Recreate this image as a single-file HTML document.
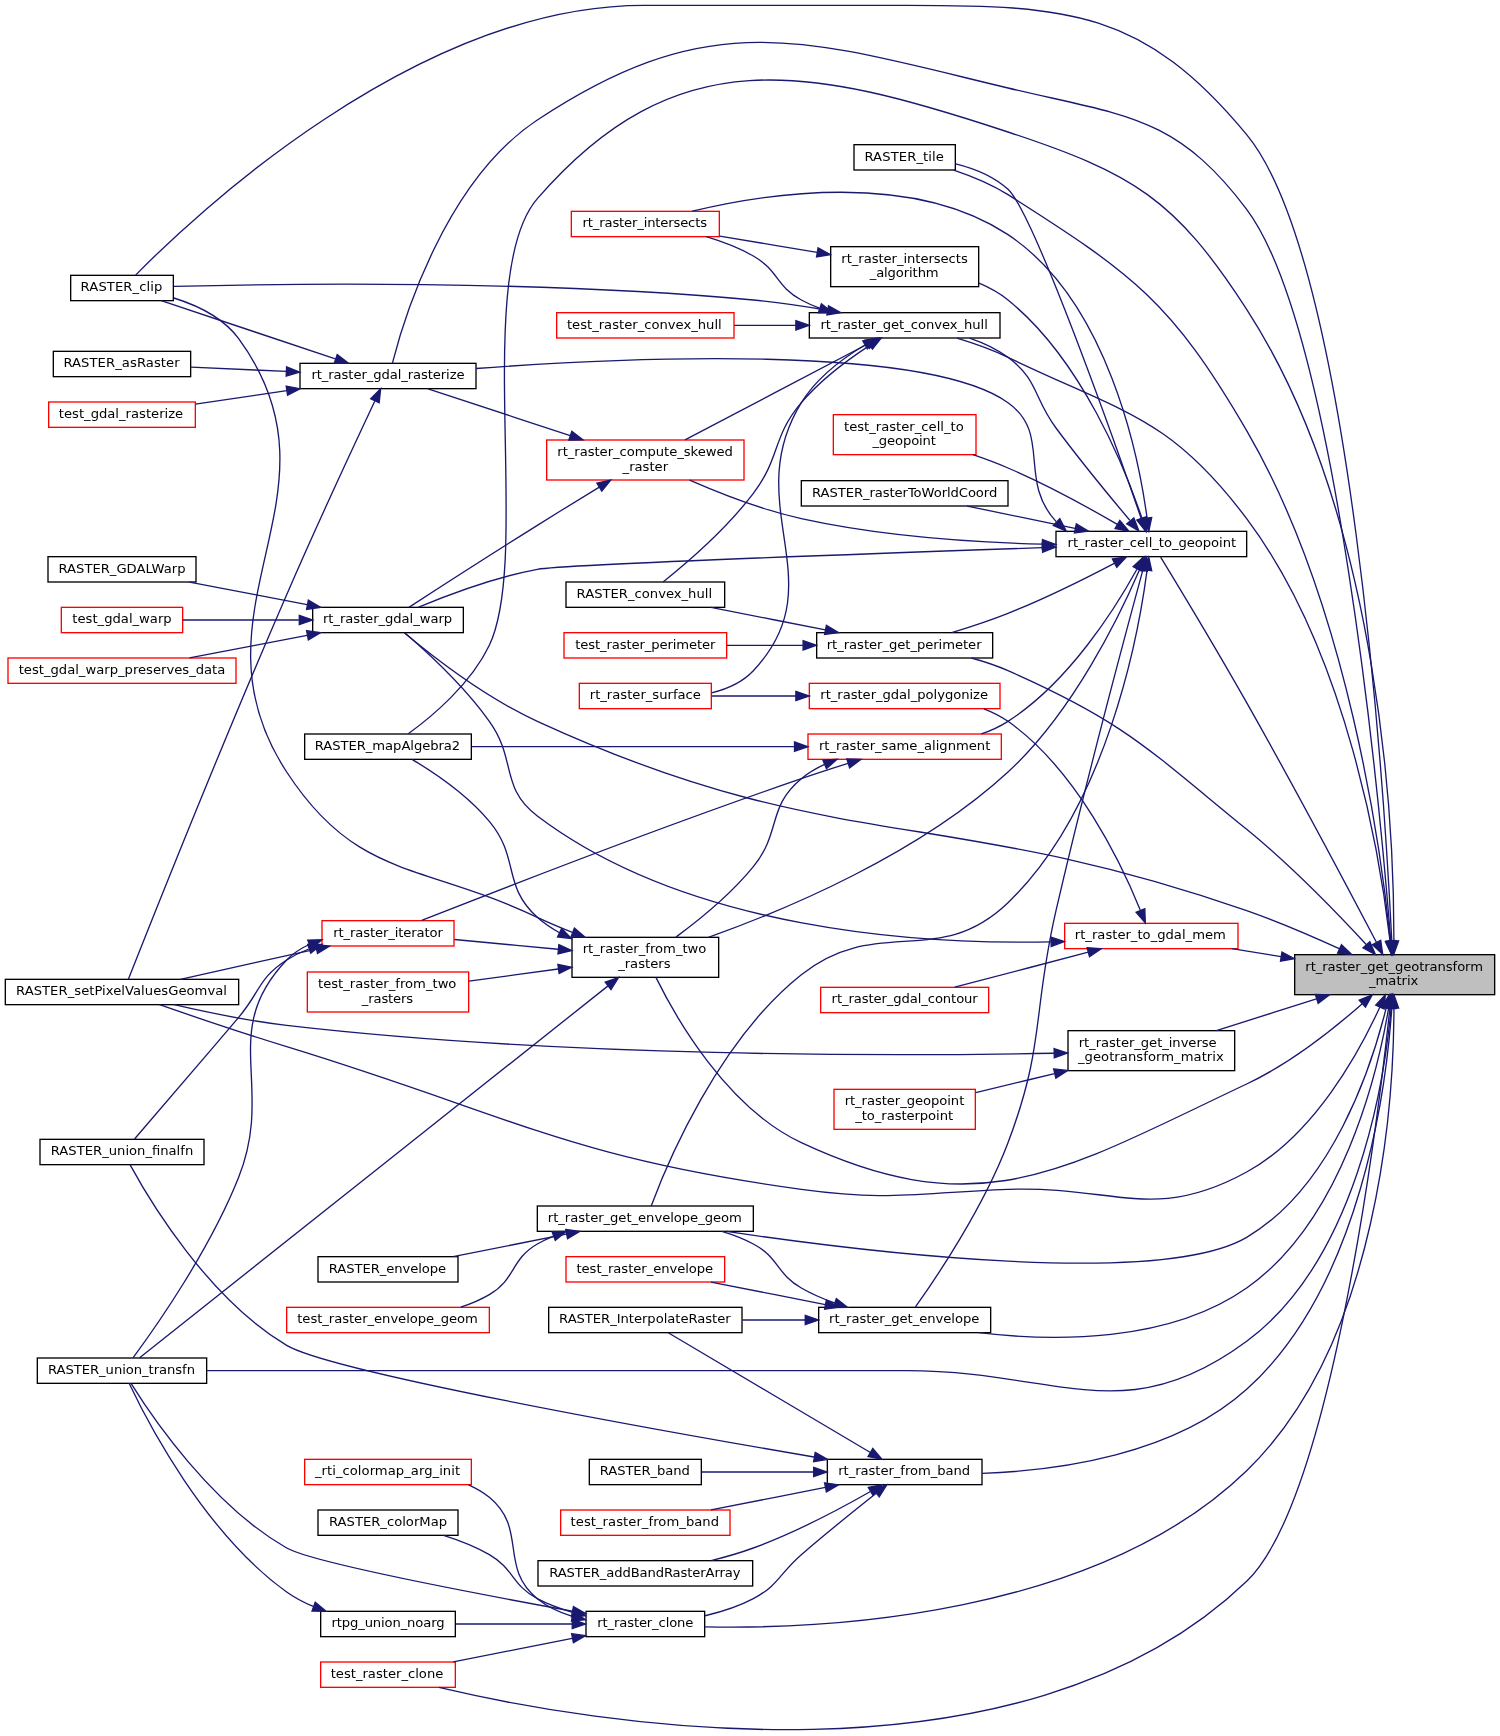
<!DOCTYPE html>
<html lang="en">
<head>
<meta charset="utf-8">
<title>rt_raster_get_geotransform_matrix caller graph</title>
<style>
html,body{margin:0;padding:0;background:#fff;}
body{width:1500px;height:1736px;overflow:hidden;}
svg{display:block;}
text{font-family:"DejaVu Sans","Liberation Sans",sans-serif;font-size:13.15px;fill:#000;text-anchor:middle;letter-spacing:0.0px;}
text.l{text-anchor:start;}
rect.n{fill:#fff;stroke:#000;stroke-width:1.3333;}
rect.r{stroke:#f00;}
rect.root{fill:#bfbfbf;}
.graph path{fill:none;stroke:#191970;stroke-width:1.3333;}
.graph polygon{fill:#191970;stroke:#191970;stroke-width:1.3333;}
</style>
</head>
<body>
<svg width="1500" height="1736" viewBox="0 0 1500 1736">
<defs><filter id="gray" x="0" y="0" width="1500" height="1736" filterUnits="userSpaceOnUse" color-interpolation-filters="sRGB"><feColorMatrix type="saturate" values="0"/></filter></defs>
<rect x="0" y="0" width="1500" height="1736" fill="#fff"/>
<g class="graph">
<rect class="n root" x="1294.67" y="954.67" width="200" height="40"/>
<rect class="n" x="70.67" y="275.33" width="102.67" height="25.33"/>
<path d="M1391.81,941.12C1384.8,800.68 1351.39,261.44 1246.67,134.67 1143.53,9.8 1067.95,5.33 906,5.33 906,5.33 906,5.33 644,5.33 414.63,5.33 189.79,219.83 135.63,275.12"/>
<polygon points="1396.48,940.95 1392.45,954.49 1387.15,941.4 1396.48,940.95"/>
<rect class="n" x="304.67" y="734" width="166.67" height="25.33"/>
<path d="M1393.89,940.52C1394.04,836.76 1382.64,519.45 1246.67,309.33 1174.87,198.39 1133.47,173.51 1008,132 807.41,65.64 675.89,39.17 537.33,198.67 471.87,274.03 532.12,555.13 489.33,645.33 471.01,683.97 431.79,716.67 408.28,733.8"/>
<polygon points="1398.56,940.95 1393.81,954.24 1389.23,940.88 1398.56,940.95"/>
<rect class="n" x="5.33" y="979.33" width="233.33" height="25.33"/>
<path d="M1379.79,1007.28C1358.81,1053.13 1313.76,1135.17 1246.67,1172 1153.44,1223.19 1114.28,1185.48 1008,1189.33 916.21,1192.67 892.35,1201.72 801.33,1189.33 566.13,1157.33 513.67,1116.07 286.67,1046.67 242.63,1033.2 192.47,1016.16 159.48,1004.71"/>
<polygon points="1375.64,1005.13 1385.29,994.83 1384.17,1008.91 1375.64,1005.13"/>
<rect class="n" x="854" y="144.67" width="101.33" height="25.33"/>
<path d="M1390.4,941.11C1381.4,852.15 1348.29,605.24 1246.67,430.67 1171.61,301.75 1133.96,274.57 1008,194.67 991.44,184.16 971.51,176.03 953.67,170.08"/>
<polygon points="1395.05,940.73 1391.69,954.45 1385.76,941.63 1395.05,940.73"/>
<rect class="n" x="37.33" y="1358" width="169.33" height="25.33"/>
<path d="M1391.13,1008.25C1384.28,1082.36 1356.64,1259.79 1246.67,1341.33 1124.6,1431.85 1057.97,1370.67 906,1370.67 906,1370.67 906,1370.67 644,1370.67 489.65,1370.67 309.57,1370.67 206.75,1370.67"/>
<polygon points="1386.48,1007.76 1392.24,994.87 1395.79,1008.53 1386.48,1007.76"/>
<rect class="n" x="1056" y="531.33" width="190.67" height="25.33"/>
<path d="M1376.55,942.55C1349.72,891.43 1295.24,788.56 1246.67,702.67 1215.77,648.04 1177.08,584.05 1160.64,557.07"/>
<polygon points="1380.69,940.4 1382.76,954.39 1372.43,944.73 1380.69,940.4"/>
<rect class="n" x="300" y="363.33" width="176" height="25.33"/>
<path d="M1390.79,941.01C1380.24,809.07 1336.23,328.4 1246.67,209.33 1175.13,114.24 1123.72,115.72 1008,88 804.11,39.15 712.29,4.47 537.33,120 445.23,180.83 403.44,320.05 392.41,363.08"/>
<polygon points="1395.44,940.69 1391.84,954.35 1386.15,941.41 1395.44,940.69"/>
<rect class="n" x="312.67" y="607.33" width="150.67" height="25.33"/>
<path d="M1339.19,948.71C1311.84,936.2 1277.91,921.59 1246.67,910.67 938.63,803.04 833.84,857.53 537.33,721.33 484.41,697.03 429.84,654.16 404.27,632.81"/>
<polygon points="1341.51,944.64 1351.64,954.47 1337.59,953.11 1341.51,944.64"/>
<rect class="n" x="572" y="937.33" width="146.67" height="40"/>
<path d="M1362.28,1003.69C1334.15,1028.48 1290.48,1063.33 1246.67,1084 1066.12,1169.17 982.15,1227.28 801.33,1142.67 726.93,1107.85 675.8,1017.71 655.91,977.36"/>
<polygon points="1359.24,1000.16 1372.28,994.73 1365.47,1007.11 1359.24,1000.16"/>
<rect class="n" x="809.33" y="312.67" width="190.67" height="25.33"/>
<path d="M1390.03,940.77C1380.65,860.08 1347.69,653.29 1246.67,518.67 1169.81,416.27 1123.33,412.93 1008,357.33 991.95,349.6 973.6,343.16 956.92,338.15"/>
<polygon points="1394.69,940.56 1391.51,954.33 1385.41,941.59 1394.69,940.56"/>
<rect class="n" x="818.67" y="1307.33" width="172" height="25.33"/>
<path d="M1388.6,1008.31C1377.32,1074.41 1342.33,1220.67 1246.67,1288 1168.09,1343.31 1052.81,1341.49 978.57,1332.67"/>
<polygon points="1384.05,1007.19 1390.76,994.76 1393.27,1008.65 1384.05,1007.19"/>
<rect class="n" x="537.33" y="1206" width="216" height="25.33"/>
<path d="M1386.15,1008.17C1371.52,1066.93 1332.17,1187.15 1246.67,1237.33 1160.83,1287.72 869.08,1252.53 726.47,1231.41"/>
<polygon points="1381.65,1006.85 1389.27,994.96 1390.75,1009 1381.65,1006.85"/>
<rect class="n" x="816.67" y="632.67" width="176" height="25.33"/>
<path d="M1366.23,944.55C1337.89,913.88 1291.41,865.8 1246.67,829.33 1147.92,748.87 1124.56,722.03 1008,670.67 996.48,665.59 983.76,661.41 971.32,658.01"/>
<polygon points="1369.88,941.64 1375.45,954.63 1363,947.95 1369.88,941.64"/>
<rect class="n" x="586" y="1611.33" width="118.67" height="25.33"/>
<path d="M1393.96,1008.05C1393.71,1096.96 1380.28,1341.48 1246.67,1470.67 1094.99,1617.33 823.25,1629.24 704.68,1626.81"/>
<polygon points="1389.29,1008.05 1393.89,994.69 1398.63,1008.01 1389.29,1008.05"/>
<rect class="n r" x="320.67" y="1662" width="134.67" height="25.33"/>
<path d="M1389.93,1008.13C1377.55,1123.21 1331.11,1500.11 1246.67,1581.33 1019.27,1800.09 585.24,1721.92 438.91,1687.45"/>
<polygon points="1385.29,1007.61 1391.33,994.84 1394.57,1008.59 1385.29,1007.61"/>
<rect class="n" x="827.33" y="1459.33" width="154.67" height="25.33"/>
<path d="M1391.79,1008.45C1386.28,1087.57 1361.15,1285.97 1246.67,1389.33 1174.05,1454.89 1058.31,1470.72 982.23,1473.41"/>
<polygon points="1387.16,1007.72 1392.63,994.71 1396.48,1008.29 1387.16,1007.72"/>
<rect class="n" x="1068" y="1030.67" width="166.67" height="40"/>
<path d="M1316.44,998.95C1284.19,1009.13 1247.12,1020.84 1216.41,1030.53"/>
<polygon points="1315.35,994.4 1329.47,994.84 1318.16,1003.29 1315.35,994.4"/>
<rect class="n r" x="1064.67" y="923.33" width="173.33" height="25.33"/>
<path d="M1281.11,956.64C1264.43,953.96 1247.55,951.24 1231.75,948.71"/>
<polygon points="1281.97,952.05 1294.4,958.77 1280.49,961.27 1281.97,952.05"/>
<path d="M1141.08,518.12C1114.13,440.44 1033.77,213.2 1008,189.33 993.71,176.09 973.97,168.33 955.68,163.79"/>
<polygon points="1145.65,517.05 1145.6,531.17 1136.83,520.11 1145.65,517.05"/>
<rect class="n" x="801.33" y="480.67" width="206.67" height="25.33"/>
<path d="M1075,528.43C1040.39,521.24 999.84,512.81 967.13,506.03"/>
<polygon points="1076.32,523.93 1088.43,531.21 1074.43,533.07 1076.32,523.93"/>
<rect class="n r" x="546.67" y="440" width="197.33" height="40"/>
<path d="M1042.12,544.19C972.64,542.35 880.79,536.23 801.33,518.67 762.36,510.05 720.11,493.49 689.63,480.16"/>
<polygon points="1042.48,539.52 1055.71,544.49 1042.27,548.85 1042.48,539.52"/>
<path d="M1056.17,521.64C1017.39,479.57 1051.92,433.93 1008,402.67 925.01,343.6 625.89,357.37 476.08,368.51"/>
<polygon points="1059.75,518.6 1066.29,531.12 1053.37,525.41 1059.75,518.6"/>
<path d="M1042.32,547.65C873.12,553.49 561.63,564.77 537.33,569.33 494.89,577.31 448.08,594.92 418.69,607.12"/>
<polygon points="1042.25,542.99 1055.75,547.19 1042.59,552.31 1042.25,542.99"/>
<path d="M1139.65,569.47C1119.99,615.16 1073.31,711.91 1008,772 918.51,854.35 785.56,909.87 708.35,937.33"/>
<polygon points="1135.41,567.51 1144.87,557.01 1144.01,571.12 1135.41,567.51"/>
<path d="M1129.79,520.27C1110.33,497.15 1080.35,460.79 1056,428 1033.36,397.52 1038.48,379.97 1008,357.33 996.68,348.92 983.09,342.68 969.57,338.07"/>
<polygon points="1133.87,517.87 1138.92,531.07 1126.75,523.89 1133.87,517.87"/>
<rect class="n r" x="571.33" y="211.33" width="148" height="25.33"/>
<path d="M1147.09,518.03C1138.64,456.27 1107.91,300.83 1008,234.67 911.2,170.56 765.61,193.53 692.29,211.21"/>
<polygon points="1151.73,517.48 1148.76,531.29 1142.47,518.65 1151.73,517.48"/>
<path d="M1142.84,570.16C1126.53,630.13 1085.71,782.32 1056,910.67 1032.25,1013.25 1045.39,1044.24 1008,1142.67 983.03,1208.41 935.67,1278.53 915.49,1306.95"/>
<polygon points="1138.35,568.91 1146.36,557.27 1147.36,571.36 1138.35,568.91"/>
<path d="M1147.08,570.13C1138.4,635.53 1106.88,807.84 1008,902.67 937.8,970 877.55,914.23 801.33,974.67 717.64,1041.05 666.15,1165.88 651.21,1205.95"/>
<polygon points="1142.45,569.55 1148.72,556.88 1151.72,570.68 1142.45,569.55"/>
<path d="M1114.31,563.29C1085.99,578.13 1045.13,598.55 1008,613.33 989.89,620.55 969.48,627.23 951.71,632.6"/>
<polygon points="1112.41,559.01 1126.37,556.89 1116.77,567.27 1112.41,559.01"/>
<rect class="n" x="830.67" y="246.67" width="148" height="40"/>
<path d="M1142.03,518.41C1125.31,468.92 1081.89,359.73 1008,300 999.45,293.09 989.43,287.6 979.05,283.23"/>
<polygon points="1146.51,517.09 1146.2,531.21 1137.63,519.99 1146.51,517.09"/>
<rect class="n r" x="808" y="734" width="193.33" height="25.33"/>
<path d="M1136.91,569.29C1115.43,608.21 1068.91,682.33 1008,721.33 999.85,726.55 990.71,730.69 981.33,733.97"/>
<polygon points="1133.03,566.65 1143.44,557.12 1141.25,571.08 1133.03,566.65"/>
<rect class="n r" x="833.33" y="414.67" width="142.67" height="40"/>
<path d="M1117.36,524.4C1089.09,507.95 1046.75,484.55 1008,468 996.87,463.24 984.81,458.76 973.01,454.71"/>
<polygon points="1119.8,520.43 1128.93,531.2 1115.07,528.47 1119.8,520.43"/>
<path d="M570.24,435.67C523.77,420.35 465.69,401.19 428.07,388.77"/>
<polygon points="571.8,431.27 583,439.88 568.88,440.13 571.8,431.27"/>
<path d="M599.32,487.09C580.19,498.77 557.61,512.64 537.33,525.33 491.05,554.31 437.13,589.04 408.89,607.32"/>
<polygon points="596.93,483.09 610.75,480.15 601.79,491.07 596.93,483.09"/>
<path d="M335.35,358.85C284.25,341.77 207.03,315.97 161.24,300.67"/>
<polygon points="337.21,354.55 348.37,363.2 334.25,363.4 337.21,354.55"/>
<path d="M374.73,401.27C355.64,441.83 317.29,524.11 286.67,594.67 221.49,744.84 148,929.6 128.37,979.23"/>
<polygon points="370.72,398.81 380.63,388.73 379.16,402.79 370.72,398.81"/>
<rect class="n" x="53.33" y="351.33" width="137.33" height="25.33"/>
<path d="M286.25,371.43C254.41,369.97 219.99,368.4 191.01,367.08"/>
<polygon points="286.6,366.77 299.71,372.04 286.17,376.09 286.6,366.77"/>
<rect class="n r" x="48.67" y="402" width="146.67" height="25.33"/>
<path d="M286.77,390.67C256.4,395.13 223.63,399.95 195.45,404.08"/>
<polygon points="286.21,386.04 300.08,388.72 287.56,395.27 286.21,386.04"/>
<rect class="n" x="48" y="556.67" width="148" height="25.33"/>
<path d="M307.05,604.68C269.48,597.45 225.16,588.92 189.47,582.05"/>
<polygon points="308.35,600.17 320.56,607.28 306.59,609.35 308.35,600.17"/>
<rect class="n r" x="61.33" y="607.33" width="121.33" height="25.33"/>
<path d="M298.83,620C260.65,620 216.95,620 182.69,620"/>
<polygon points="299.28,615.33 312.61,620 299.28,624.67 299.28,615.33"/>
<rect class="n r" x="8" y="658" width="228" height="25.33"/>
<path d="M307.05,635.32C269.48,642.55 225.16,651.08 189.47,657.95"/>
<polygon points="306.59,630.65 320.56,632.72 308.35,639.83 306.59,630.65"/>
<path d="M572.41,932.37C560.55,927.69 548.49,922.61 537.33,917.33 420.93,862.24 357.01,879.87 286.67,772 180.83,609.69 353.39,494.83 238.67,338.67 223.25,317.69 197.25,305.27 173.84,297.99"/>
<polygon points="574.37,928.12 585.15,937.27 571.03,936.84 574.37,928.12"/>
<path d="M559.55,932.75C551.53,928.39 543.95,923.29 537.33,917.33 501.88,885.41 519.93,857.92 489.33,821.33 467.37,795.08 434.43,772.79 412.43,759.57"/>
<polygon points="561.61,928.56 571.53,938.61 557.51,936.95 561.61,928.56"/>
<path d="M608.04,985.88C504.95,1067.72 211.13,1300.96 139.32,1357.97"/>
<polygon points="605.19,982.19 618.53,977.55 611,989.49 605.19,982.19"/>
<rect class="n r" x="322" y="920.67" width="132" height="25.33"/>
<path d="M557.99,949.23C524.13,946.04 485.91,942.44 454.41,939.47"/>
<polygon points="558.87,944.63 571.71,950.52 557.99,953.92 558.87,944.63"/>
<rect class="n r" x="307.33" y="972" width="161.33" height="40"/>
<path d="M558.25,969C529.4,972.93 497.33,977.29 468.96,981.16"/>
<polygon points="557.87,964.35 571.71,967.17 559.12,973.6 557.87,964.35"/>
<path d="M316.15,949.04C273.63,958.52 220.19,970.43 180.36,979.29"/>
<polygon points="315.49,944.41 329.53,946.07 317.53,953.52 315.49,944.41"/>
<path d="M309.21,944.51C300.8,948.33 293.01,953.37 286.67,960 218.25,1031.44 275.13,1085.39 238.67,1177.33 209.71,1250.36 155.12,1327.89 133,1357.84"/>
<polygon points="307.76,940.07 321.88,939.72 311.05,948.8 307.76,940.07"/>
<rect class="n" x="40" y="1139.33" width="164" height="25.33"/>
<path d="M308.67,949C300.95,952.04 293.47,955.67 286.67,960 258.64,977.85 260.15,991.97 238.67,1017.33 200.67,1062.2 155.17,1115.08 134.52,1139.04"/>
<polygon points="307.68,944.4 321.81,944.41 310.76,953.21 307.68,944.4"/>
<path d="M827.28,310.24C803.68,306.16 777.51,302.25 753.33,300 538.49,279.92 280.71,283.67 173.69,286.44"/>
<polygon points="828.53,305.72 840.84,312.65 826.89,314.92 828.53,305.72"/>
<path d="M867.21,344.28C819.07,369.55 734.23,414.05 685,439.89"/>
<polygon points="865.21,340.07 879.19,338 869.55,348.33 865.21,340.07"/>
<rect class="n" x="566" y="582" width="158.67" height="25.33"/>
<path d="M869.33,345.64C847.89,359.68 820.71,379.88 801.33,402.67 771.8,437.41 780.89,457.01 753.33,493.33 726.01,529.36 685.48,564 663.07,581.96"/>
<polygon points="867.44,341.32 881.19,338.12 872.44,349.2 867.44,341.32"/>
<path d="M819.44,308.17C813.17,305.79 807.07,303.08 801.33,300 775.84,286.31 778.49,270.29 753.33,256 738.88,247.79 722.09,241.48 706.19,236.72"/>
<polygon points="821.37,303.89 832.48,312.63 818.35,312.73 821.37,303.89"/>
<rect class="n r" x="579.33" y="683.33" width="132" height="25.33"/>
<path d="M864.89,344.95C842.8,358.24 816.52,377.88 801.33,402.67 738.12,505.85 836.47,582.75 753.33,670.67 742.35,682.28 727.09,689 711.55,692.79"/>
<polygon points="862.75,340.8 876.63,338.23 867.37,348.91 862.75,340.8"/>
<rect class="n r" x="556.67" y="312.67" width="177.33" height="25.33"/>
<path d="M795.88,325.33C775.39,325.33 754.16,325.33 734.37,325.33"/>
<polygon points="795.88,320.67 809.21,325.33 795.88,330 795.88,320.67"/>
<rect class="n" x="548.67" y="1307.33" width="193.33" height="25.33"/>
<path d="M805.23,1320C784.63,1320 762.93,1320 742.43,1320"/>
<polygon points="805.24,1315.33 818.57,1320 805.24,1324.67 805.24,1315.33"/>
<path d="M834.6,1303C823.12,1298.89 811.61,1293.93 801.33,1288 776.27,1273.55 778.91,1257.56 753.33,1244 743.59,1238.83 732.77,1234.69 721.88,1231.41"/>
<polygon points="836.31,1298.65 847.48,1307.28 833.36,1307.51 836.31,1298.65"/>
<rect class="n r" x="566" y="1256.67" width="158.67" height="25.33"/>
<path d="M825.4,1304.61C788.79,1297.39 745.68,1288.88 710.97,1282.03"/>
<polygon points="826.39,1300.05 838.56,1307.21 824.59,1309.21 826.39,1300.05"/>
<rect class="n" x="318" y="1256.67" width="140" height="25.33"/>
<path d="M566.2,1234.15C529.97,1241.35 487.43,1249.81 453.13,1256.64"/>
<polygon points="565.75,1229.48 579.73,1231.45 567.57,1238.63 565.75,1229.48"/>
<rect class="n r" x="286.67" y="1307.33" width="202.67" height="25.33"/>
<path d="M553.61,1236.09C547.96,1238.41 542.48,1241.04 537.33,1244 510.45,1259.49 516.09,1278.97 489.33,1294.67 480.53,1299.83 470.68,1303.95 460.71,1307.24"/>
<polygon points="552.08,1231.69 566.2,1231.51 555.28,1240.47 552.08,1231.69"/>
<path d="M825.4,629.95C788.79,622.72 745.68,614.21 710.97,607.36"/>
<polygon points="826.39,625.39 838.56,632.55 824.59,634.55 826.39,625.39"/>
<rect class="n r" x="564" y="632.67" width="162.67" height="25.33"/>
<path d="M803.01,645.33C777.8,645.33 751.08,645.33 726.99,645.33"/>
<polygon points="803.11,640.67 816.44,645.33 803.11,650 803.11,640.67"/>
<path d="M817.17,252.35C785.55,247.09 750.08,241.19 719.71,236.15"/>
<polygon points="818.08,247.76 830.47,254.56 816.55,256.97 818.08,247.76"/>
<path d="M793.93,746.67C697.44,746.67 558.92,746.67 471.59,746.67"/>
<polygon points="794.52,742 807.85,746.67 794.52,751.33 794.52,742"/>
<path d="M824.57,764.43C816.23,768.28 808.27,772.97 801.33,778.67 766.91,806.95 781.44,832.11 753.33,866.67 730.79,894.39 698.96,920.16 675.95,937.09"/>
<polygon points="822.89,760.07 837,759.35 826.43,768.71 822.89,760.07"/>
<path d="M848.01,763.41C832.83,768.17 816.4,773.48 801.33,778.67 658.65,827.79 490.91,893.17 421.69,920.49"/>
<polygon points="846.87,758.88 860.99,759.39 849.63,767.8 846.87,758.88"/>
<path d="M572.51,1611.2C475.47,1593.47 311.27,1562.03 286.67,1548 211.76,1505.31 151.64,1416.49 131.01,1383.43"/>
<polygon points="573.45,1606.63 585.73,1613.61 571.77,1615.81 573.45,1606.63"/>
<rect class="n r" x="304.67" y="1459.33" width="166.67" height="25.33"/>
<path d="M572.35,1616.31C559.73,1612.47 547.43,1606.85 537.33,1598.67 498.61,1567.31 527.83,1528.99 489.33,1497.33 483.11,1492.21 475.99,1488.11 468.47,1484.83"/>
<polygon points="573.76,1611.85 585.51,1619.71 571.44,1620.89 573.76,1611.85"/>
<rect class="n" x="318" y="1510" width="140" height="25.33"/>
<path d="M572.51,1612.36C560.37,1608.89 548.2,1604.43 537.33,1598.67 511.76,1585.11 514.36,1569.19 489.33,1554.67 475.31,1546.52 458.93,1540.17 443.56,1535.36"/>
<polygon points="573.85,1607.88 585.6,1615.73 571.52,1616.92 573.85,1607.88"/>
<rect class="n" x="320.67" y="1611.33" width="134.67" height="25.33"/>
<path d="M571.96,1624C535.4,1624 491.28,1624 455.57,1624"/>
<polygon points="572.24,1619.33 585.57,1624 572.24,1628.67 572.24,1619.33"/>
<path d="M572.19,1638.29C534.8,1645.72 489.47,1654.75 453.29,1661.95"/>
<polygon points="571.59,1633.65 585.57,1635.63 573.41,1642.8 571.59,1633.65"/>
<path d="M313.24,1606.45C303.84,1602.53 294.71,1597.77 286.67,1592 204.8,1533.25 146.92,1420.99 129.11,1383.33"/>
<polygon points="315.29,1602.24 326.13,1611.31 312.01,1610.99 315.29,1602.24"/>
<path d="M813.99,1456.99C654.15,1429.63 331.64,1372.04 286.67,1345.33 208.09,1298.67 149.37,1200.2 130.12,1164.92"/>
<polygon points="815.19,1452.45 827.55,1459.29 813.61,1461.65 815.19,1452.45"/>
<path d="M870.4,1452.49C817.04,1420.89 713.16,1359.37 668.23,1332.77"/>
<polygon points="872.8,1448.49 881.89,1459.31 868.04,1456.52 872.8,1448.49"/>
<path d="M876.24,1493.23C855.47,1509.67 826.24,1533.19 801.33,1554.67 779.41,1573.56 778.91,1585.11 753.33,1598.67 738.53,1606.52 721.31,1611.96 705.07,1615.73"/>
<polygon points="873.47,1489.47 886.83,1484.87 879.25,1496.79 873.47,1489.47"/>
<rect class="n" x="538" y="1560.67" width="214.67" height="25.33"/>
<path d="M870.47,1491.51C840.73,1508.45 795.31,1532.63 753.33,1548 739.93,1552.91 725.23,1557.12 711.13,1560.61"/>
<polygon points="868.32,1487.36 882.2,1484.73 872.99,1495.44 868.32,1487.36"/>
<rect class="n" x="589.33" y="1459.33" width="112" height="25.33"/>
<path d="M813.51,1472C776.19,1472 734.08,1472 701.51,1472"/>
<polygon points="813.68,1467.33 827.01,1472 813.68,1476.67 813.68,1467.33"/>
<rect class="n r" x="560.67" y="1510" width="169.33" height="25.33"/>
<path d="M825.4,1487.39C788.79,1494.61 745.68,1503.12 710.97,1509.97"/>
<polygon points="824.59,1482.79 838.56,1484.79 826.39,1491.95 824.59,1482.79"/>
<path d="M1053.99,1053.21C894.2,1056.25 563.83,1057.44 286.67,1025.33 248.57,1020.92 206.16,1012.15 174.09,1004.71"/>
<polygon points="1054.11,1048.55 1067.52,1052.95 1054.29,1057.88 1054.11,1048.55"/>
<rect class="n r" x="834" y="1089.33" width="141.33" height="40"/>
<path d="M1054.57,1073.61C1028.28,1079.93 1000.25,1086.67 975.71,1092.57"/>
<polygon points="1053.68,1069.03 1067.73,1070.45 1055.87,1078.11 1053.68,1069.03"/>
<path d="M1050.91,941.91C920.15,944.52 688.88,930.6 537.33,816 499.71,787.55 516.89,759.61 489.33,721.33 463.77,685.83 425.75,650.97 404.72,632.85"/>
<polygon points="1050.96,937.24 1064.4,941.57 1051.19,946.57 1050.96,937.24"/>
<rect class="n r" x="820.67" y="987.33" width="168" height="25.33"/>
<path d="M1088.24,952.2C1046.84,963.05 993.08,977.16 954.71,987.23"/>
<polygon points="1087.13,947.67 1101.21,948.8 1089.49,956.69 1087.13,947.67"/>
<rect class="n r" x="809.33" y="683.33" width="190.67" height="25.33"/>
<path d="M1140.23,909.95C1121.73,864.33 1077.16,770.19 1008,721.33 1000.69,716.17 992.45,712.07 983.89,708.79"/>
<polygon points="1144.8,908.83 1145.32,922.95 1136.11,912.23 1144.8,908.83"/>
<path d="M795.75,696C767.11,696 737.07,696 711.51,696"/>
<polygon points="795.88,691.33 809.21,696 795.88,700.67 795.88,691.33"/>
</g>
<g class="labels" filter="url(#gray)">
<text class="l" x="1305.33" y="970.67" textLength="177.67">rt_raster_get_geotransform</text>
<text x="1393.67" y="985.33" textLength="49.41">_matrix</text>
<text x="121.5" y="291.33" textLength="81.83">RASTER_clip</text>
<text x="387.5" y="750" textLength="145.39">RASTER_mapAlgebra2</text>
<text x="121.5" y="995.33" textLength="210.97">RASTER_setPixelValuesGeomval</text>
<text x="904.17" y="160.67" textLength="79.5">RASTER_tile</text>
<text x="121.5" y="1374" textLength="146.95">RASTER_union_transfn</text>
<text x="1151.83" y="547.33" textLength="168.56">rt_raster_cell_to_geopoint</text>
<text x="388" y="379.33" textLength="153.17">rt_raster_gdal_rasterize</text>
<text x="387.5" y="623.33" textLength="129.14">rt_raster_gdal_warp</text>
<text class="l" x="582.67" y="953.33" textLength="123.73">rt_raster_from_two</text>
<text x="644.33" y="968" textLength="52.36">_rasters</text>
<text x="904.17" y="328.67" textLength="167.33">rt_raster_get_convex_hull</text>
<text x="904.17" y="1323.33" textLength="150.19">rt_raster_get_envelope</text>
<text x="644.83" y="1222" textLength="194.02">rt_raster_get_envelope_geom</text>
<text x="904.17" y="648.67" textLength="154.8">rt_raster_get_perimeter</text>
<text x="645.33" y="1627.33" textLength="95.97">rt_raster_clone</text>
<text x="387" y="1678" textLength="112.66">test_raster_clone</text>
<text x="904.17" y="1475.33" textLength="131.86">rt_raster_from_band</text>
<text class="l" x="1078.67" y="1046.67" textLength="137.97">rt_raster_get_inverse</text>
<text x="1150.83" y="1061.33" textLength="145.88">_geotransform_matrix</text>
<text x="1150.33" y="939.33" textLength="151.05">rt_raster_to_gdal_mem</text>
<text x="904.67" y="496.67" textLength="185.16">RASTER_rasterToWorldCoord</text>
<text class="l" x="557.33" y="456" textLength="175.44">rt_raster_compute_skewed</text>
<text x="645.33" y="470.67" textLength="45.52">_raster</text>
<text x="644.83" y="227.33" textLength="124.42">rt_raster_intersects</text>
<text class="l" x="841.33" y="262.67" textLength="126.42">rt_raster_intersects</text>
<text x="904.17" y="277.33" textLength="69">_algorithm</text>
<text x="904.67" y="750" textLength="171.39">rt_raster_same_alignment</text>
<text class="l" x="844" y="430.67" textLength="119.7">test_raster_cell_to</text>
<text x="904.17" y="445.33" textLength="63.56">_geopoint</text>
<text x="121.5" y="367.33" textLength="116.25">RASTER_asRaster</text>
<text x="121" y="418" textLength="124.34">test_gdal_rasterize</text>
<text x="122" y="572.67" textLength="127.09">RASTER_GDALWarp</text>
<text x="122" y="623.33" textLength="99.31">test_gdal_warp</text>
<text x="122" y="674" textLength="206.62">test_gdal_warp_preserves_data</text>
<text x="388" y="936.67" textLength="109.58">rt_raster_iterator</text>
<text class="l" x="318" y="988" textLength="138.42">test_raster_from_two</text>
<text x="387.5" y="1002.67" textLength="51.36">_rasters</text>
<text x="122" y="1155.33" textLength="142.47">RASTER_union_finalfn</text>
<text x="644.33" y="598" textLength="135.5">RASTER_convex_hull</text>
<text x="645.33" y="699.33" textLength="111.2">rt_raster_surface</text>
<text x="644.33" y="328.67" textLength="154.86">test_raster_convex_hull</text>
<text x="644.83" y="1323.33" textLength="171.52">RASTER_InterpolateRaster</text>
<text x="644.83" y="1272.67" textLength="136.72">test_raster_envelope</text>
<text x="387.5" y="1272.67" textLength="117.36">RASTER_envelope</text>
<text x="387.5" y="1323.33" textLength="180.55">test_raster_envelope_geom</text>
<text x="645.33" y="648.67" textLength="140.33">test_raster_perimeter</text>
<text x="387.5" y="1475.33" textLength="145.16">_rti_colormap_arg_init</text>
<text x="388" y="1526" textLength="118.06">RASTER_colorMap</text>
<text x="388" y="1627.33" textLength="113">rtpg_union_noarg</text>
<text x="644.83" y="1576.67" textLength="191.2">RASTER_addBandRasterArray</text>
<text x="644.83" y="1475.33" textLength="90.03">RASTER_band</text>
<text x="644.83" y="1526" textLength="148.53">test_raster_from_band</text>
<text class="l" x="844.67" y="1105.33" textLength="119.62">rt_raster_geopoint</text>
<text x="904.17" y="1120" textLength="97.8">_to_rasterpoint</text>
<text x="904.67" y="1003.33" textLength="146.11">rt_raster_gdal_contour</text>
<text x="904.17" y="699.33" textLength="167.75">rt_raster_gdal_polygonize</text>
</g>
</svg>
</body>
</html>
